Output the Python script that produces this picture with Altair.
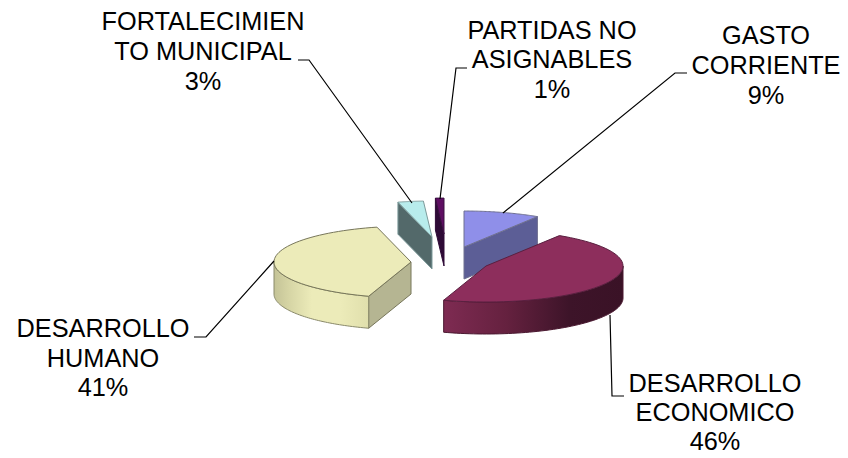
import numpy as np
import pandas as pd
import altair as alt

# values
categories = ["GASTO CORRIENTE", "DESARROLLO ECONOMICO", "DESARROLLO HUMANO",
              "FORTALECIMIENTO MUNICIPAL", "PARTIDAS NO ASIGNABLES"]
shares = [9, 46, 41, 3, 1]

# label text
label_lines = [
    ["GASTO", "CORRIENTE", "9%"],
    ["DESARROLLO", "ECONOMICO", "46%"],
    ["DESARROLLO", "HUMANO", "41%"],
    ["FORTALECIMIEN", "TO MUNICIPAL", "3%"],
    ["PARTIDAS NO", "ASIGNABLES", "1%"],
]
label_x = [766, 715, 103, 203, 552]
label_y = [[36, 66, 96], [384, 413, 442], [329, 359, 388], [22, 52, 82], [31, 60, 90]]

# leader lines
leader_x = [[687, 675, 503], [624, 612, 610], [194, 206, 274], [298, 309, 412], [467, 456, 440]]
leader_y = [[73, 73, 213], [396, 396, 315], [337, 337, 261], [60, 60, 203], [68, 68, 199]]

# pie look
vertex_x = [464, 486, 411, 432, 444]
vertex_y = [247, 266, 262, 237, 234]
RX, RY, DEPTH = 137, 36, 32
top_fill = ["#8f8fe9", "#8d2e5c", "#ecebb9", "#b8ecec", "#5e0e62"]
top_stroke = ["#6f7090", "#5a2040", "#77765a", "#7d9a9a", "#3a1040"]
wall_fill = ["#5c5e96", None, None, "#53696a", "#2e0a36"]
yellow_edge = "#b5b592"


def grad(stops):
    return alt.Gradient(gradient="linear", x1=0, x2=1, y1=0, y2=0,
                        stops=[alt.GradientStop(color=c, offset=o) for o, c in stops])


def poly(xs, ys, fill, stroke, width=1.0):
    xs, ys = list(xs) + [xs[0]], list(ys) + [ys[0]]
    df = pd.DataFrame({"x": xs, "y": ys, "i": range(len(xs))})
    return alt.Chart(df).mark_line(fill=fill, stroke=stroke, strokeWidth=width, clip=False).encode(
        x=alt.X("x:Q", scale=xs_scale, axis=None),
        y=alt.Y("y:Q", scale=ys_scale, axis=None),
        order="i:Q",
    )


xs_scale = alt.Scale(domain=[8, 840], nice=False, zero=False)
ys_scale = alt.Scale(domain=[456, 8], nice=False, zero=False)

# slice angles (clockwise from the back), in degrees on the ellipse
edges = -90 + np.cumsum([0] + shares) * 3.6
layers = []


def arc(k, a0, a1):
    t = np.radians(np.linspace(a0, a1, 60))
    return vertex_x[k] + RX * np.cos(t), vertex_y[k] + RY * np.sin(t)


def radial_wall(k, a, fill, stroke):
    x, y = arc(k, a, a)
    px, py = x[0], y[0]
    vx, vy = vertex_x[k], vertex_y[k]
    return poly([px, vx, vx, px], [py, vy, vy + DEPTH, py + DEPTH], fill, stroke)


def curved_wall(k, a0, a1, fill, stroke):
    x, y = arc(k, a0, a1)
    return poly(np.r_[x, x[::-1]], np.r_[y, y[::-1] + DEPTH], fill, stroke)


def top(k):
    x, y = arc(k, edges[k], edges[k + 1])
    return poly(np.r_[vertex_x[k], x], np.r_[vertex_y[k], y], top_fill[k], top_stroke[k])


# back to front
layers.append(radial_wall(0, edges[1], wall_fill[0], "#6f7090"))
layers.append(top(0))
layers.append(curved_wall(1, 0, edges[2],
                          grad([(0, "#7e2b52"), (0.35, "#65213f"), (0.7, "#3d1429"), (1, "#3a1226")]),
                          "#4a1830"))
layers.append(top(1))
layers.append(radial_wall(2, edges[2], yellow_edge, "#77765a"))
layers.append(curved_wall(2, edges[2], 180,
                          grad([(0, "#c4c397"), (0.15, "#d5d4a4"), (0.4, "#ecebb9"), (0.7, "#ecebb9"), (1, "#e0dfac")]),
                          "#8a8a6a"))
layers.append(top(2))
layers.append(radial_wall(3, edges[3], wall_fill[3], "#7d9a9a"))
layers.append(top(3))
layers.append(radial_wall(4, edges[4], wall_fill[4], "#2e0a36"))
layers.append(top(4))

# leader lines
for lx, ly in zip(leader_x, leader_y):
    df = pd.DataFrame({"x": lx, "y": ly, "i": range(len(lx))})
    layers.append(alt.Chart(df).mark_line(color="#000000", strokeWidth=1.2, clip=False).encode(
        x=alt.X("x:Q", scale=xs_scale, axis=None),
        y=alt.Y("y:Q", scale=ys_scale, axis=None),
        order="i:Q",
    ))

# labels
rows = []
for lines, cx, ys in zip(label_lines, label_x, label_y):
    for line, yy in zip(lines, ys):
        rows.append({"x": cx, "y": yy, "t": line})
layers.append(alt.Chart(pd.DataFrame(rows)).mark_text(
    font="Liberation Sans", fontSize=25.3, color="#000000", align="center", baseline="middle", clip=False
).encode(
    x=alt.X("x:Q", scale=xs_scale, axis=None),
    y=alt.Y("y:Q", scale=ys_scale, axis=None),
    text="t:N",
))

chart = alt.layer(*layers).properties(
    width=832, height=448, padding=0, autosize=alt.AutoSizeParams(type="none"),
    background="#ffffff",
).configure_view(stroke=None)

chart.save("out.html", embed_options={"renderer": "svg", "actions": False})
